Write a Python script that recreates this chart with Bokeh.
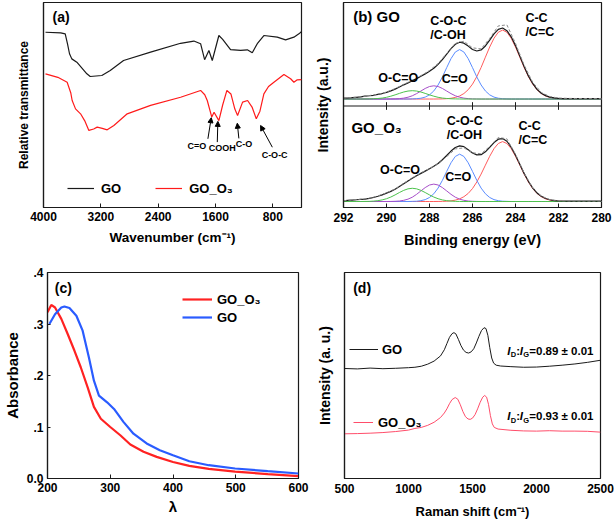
from bokeh.plotting import figure
from bokeh.layouts import column, row
from bokeh.models import (FixedTicker, Legend, LegendItem, Label, Arrow,
                          NormalHead, Span, Range1d)
from bokeh.embed import file_html
from bokeh.resources import INLINE

FONT = "Liberation Sans"
INK = "#1a1a1a"

# ---------------- (a) FTIR ----------------
ftir_go_wn = [3972, 3760, 3697, 3665, 3637, 3605, 3535, 3395, 3348, 3186, 3069, 2883, 2506, 2087, 1902, 1808,
              1752, 1692, 1645, 1553, 1500, 1390, 1250, 1156, 1087, 1017, 925, 738, 622, 506, 436, 398]
ftir_go_t = [85.5, 85.2, 84.7, 79.8, 75.0, 72.5, 70.9, 65.2, 63.9, 64.4, 66.8, 71.7, 75.8, 80.1, 81.2, 79.9,
             72.1, 76.6, 71.7, 83.9, 82.0, 77.0, 76.6, 76.9, 75.5, 79.9, 83.9, 83.1, 81.8, 83.1, 84.7, 85.9]
ftir_o3_wn = [3972, 3800, 3670, 3620, 3600, 3553, 3483, 3420, 3367, 3300, 3251, 3180, 3111, 3018, 2832, 2506,
              2087, 1808, 1750, 1715, 1652, 1620, 1553, 1500, 1441, 1385, 1330, 1292, 1222, 1152, 1090, 1031,
              980, 925, 860, 785, 645, 552, 506, 459, 398]
ftir_o3_t = [65.2, 63.5, 61.1, 56.0, 52.2, 48.1, 45.7, 42.0, 37.6, 38.3, 39.2, 38.6, 37.9, 40.0, 45.7, 49.8,
             53.8, 57.1, 55.0, 52.2, 44.1, 46.5, 42.4, 50.0, 57.1, 55.4, 48.0, 44.9, 51.4, 52.2, 49.0, 43.3,
             47.0, 55.4, 59.0, 61.1, 64.9, 62.8, 61.1, 62.3, 62.4]
ftir_ticks = [4000, 3200, 2400, 1600, 800]
ftir_bands = ["C=O", "COOH", "C-O", "C-O-C"]
ftir_band_text = [(1860, 30.2), (1505, 28.8), (1201, 31.2), (775, 25.4)]
ftir_arrow_from = [(1706, 33.5), (1575, 31.9), (1274, 33.7), (807, 29.4)]
ftir_arrow_to = [(1659, 43.8), (1567, 42.0), (1296, 41.1), (971, 40.0)]

# ---------------- (b) XPS C1s ----------------
xps_be = [292.0, 291.8, 291.6, 291.4, 291.2, 291.0, 290.8, 290.6, 290.4, 290.2,
          290.0, 289.8, 289.6, 289.4, 289.2, 289.0, 288.8, 288.6, 288.4, 288.2,
          288.0, 287.8, 287.6, 287.4, 287.2, 287.0, 286.8, 286.6, 286.4, 286.2,
          286.0, 285.8, 285.6, 285.4, 285.2, 285.0, 284.8, 284.6, 284.4, 284.2,
          284.0, 283.8, 283.6, 283.4, 283.2, 283.0, 282.8, 282.6, 282.4, 282.2,
          282.0, 281.8, 281.6, 281.4, 281.2, 281.0, 280.8, 280.6, 280.4, 280.2,
          280.0]
xps_be_raw = [292.0, 291.6, 291.2, 290.8, 290.4, 290.0, 289.6, 289.2, 288.8, 288.4,
              288.0, 287.6, 287.2, 286.8, 286.4, 286.0, 285.6, 285.2, 284.8, 284.4,
              284.0, 283.6, 283.2, 282.8, 282.4, 282.0, 281.6, 281.2, 280.8, 280.4,
              280.0]
xps_ticks = [292, 290, 288, 286, 284, 282, 280]

# GO (rows of 10 values, same grid as xps_be)
xps_go_cc = [0, 0, 0, 0, 0, 0, 0, 0, 0, 0,
             0, 0, 0, 0, 0, 0, 0, 0, 0, 0,
             0, 0, .001, .002, .005, .011, .023, .044, .079, .134,
             .214, .322, .453, .601, .747, .873, .959, .990, .959, .873,
             .747, .601, .453, .322, .214, .134, .079, .044, .023, .011,
             .005, .002, .001, 0, 0, 0, 0, 0, 0, 0,
             0]
xps_go_coc = [0, 0, 0, 0, 0, 0, 0, 0, 0, 0,
              0, 0, 0, 0, 0, 0, .002, .005, .012, .028,
              .060, .116, .202, .317, .451, .580, .675, .710, .675, .580,
              .451, .317, .202, .116, .060, .028, .012, .005, .002, 0,
              0, 0, 0, 0, 0, 0, 0, 0, 0, 0,
              0, 0, 0, 0, 0, 0, 0, 0, 0, 0,
              0]
xps_go_co = [0, 0, 0, 0, 0, 0, 0, 0, 0, 0,
             0, .001, .002, .006, .013, .026, .047, .078, .115, .152,
             .180, .190, .180, .152, .115, .078, .047, .026, .013, .006,
             .002, .001, 0, 0, 0, 0, 0, 0, 0, 0,
             0, 0, 0, 0, 0, 0, 0, 0, 0, 0,
             0, 0, 0, 0, 0, 0, 0, 0, 0, 0,
             0]
xps_go_oco = [0, 0, 0, 0, 0, .001, .002, .004, .008, .014,
              .025, .041, .060, .081, .101, .115, .120, .115, .101, .081,
              .060, .041, .025, .014, .008, .004, .002, .001, 0, 0,
              0, 0, 0, 0, 0, 0, 0, 0, 0, 0,
              0, 0, 0, 0, 0, 0, 0, 0, 0, 0,
              0, 0, 0, 0, 0, 0, 0, 0, 0, 0,
              0]
xps_go_fit = [.012, .015, .020, .025, .030, .041, .047, .054, .068, .079,
              .095, .117, .142, .172, .204, .231, .264, .293, .328, .361,
              .400, .442, .498, .565, .644, .723, .787, .816, .802, .760,
              .712, .690, .705, .762, .847, .936, 1.001, 1.020, .981, .893,
              .767, .616, .468, .332, .224, .139, .084, .049, .028, .016,
              .010, .007, .006, .005, .005, .005, .005, .005, .005, .005,
              .005]
xps_go_raw = [.014, .022, .031, .050, .070, .100, .150, .212, .270, .336,
              .410, .510, .655, .800, .830, .735, .720, .870, 1.050, 1.065,
              .800, .490, .240, .095, .035, .015, .010, .008, .007, .006,
              .006]

# GO_O3
xps_o3_cc = [0, 0, 0, 0, 0, 0, 0, 0, 0, 0,
             0, 0, 0, 0, 0, 0, 0, 0, 0, 0,
             0, 0, .001, .002, .004, .009, .020, .038, .069, .116,
             .186, .280, .394, .522, .649, .759, .833, .860, .833, .759,
             .649, .522, .394, .280, .186, .116, .069, .038, .020, .009,
             .004, .002, .001, 0, 0, 0, 0, 0, 0, 0,
             0]
xps_o3_coc = [0, 0, 0, 0, 0, 0, 0, 0, 0, 0,
              0, 0, 0, 0, 0, 0, .002, .004, .012, .027,
              .058, .111, .193, .304, .432, .556, .647, .680, .647, .556,
              .432, .304, .193, .111, .058, .027, .012, .004, .002, 0,
              0, 0, 0, 0, 0, 0, 0, 0, 0, 0,
              0, 0, 0, 0, 0, 0, 0, 0, 0, 0,
              0]
xps_o3_co = [0, 0, 0, 0, 0, 0, 0, 0, 0, 0,
             0, .001, .003, .007, .017, .034, .062, .103, .152, .200,
             .237, .250, .237, .200, .152, .103, .062, .034, .017, .007,
             .003, .001, 0, 0, 0, 0, 0, 0, 0, 0,
             0, 0, 0, 0, 0, 0, 0, 0, 0, 0,
             0, 0, 0, 0, 0, 0, 0, 0, 0, 0,
             0]
xps_o3_oco = [0, 0, 0, 0, 0, .001, .002, .006, .012, .023,
              .040, .064, .095, .129, .160, .182, .190, .182, .160, .129,
              .095, .064, .040, .023, .012, .006, .002, .001, 0, 0,
              0, 0, 0, 0, 0, 0, 0, 0, 0, 0,
              0, 0, 0, 0, 0, 0, 0, 0, 0, 0,
              0, 0, 0, 0, 0, 0, 0, 0, 0, 0,
              0]
xps_o3_fit = [.010, .015, .020, .025, .030, .035, .045, .058, .075, .095,
              .120, .145, .175, .215, .255, .296, .334, .369, .404, .436,
              .470, .505, .546, .599, .660, .724, .776, .798, .788, .744,
              .696, .670, .672, .713, .777, .846, .895, .904, .865, .779,
              .664, .534, .404, .290, .194, .123, .075, .043, .025, .014,
              .009, .007, .006, .005, .005, .005, .005, .005, .005, .005,
              .005]
xps_o3_raw = [.012, .022, .032, .048, .080, .125, .180, .262, .340, .410,
              .475, .540, .645, .755, .770, .700, .685, .790, .920, .900,
              .680, .410, .195, .078, .027, .012, .008, .007, .006, .006,
              .006]

XPS_GO_SHIFT = 1.471   # vertical stacking of the GO spectrum
XPS_DIVIDER = 1.371

# ---------------- (c) UV-vis ----------------
uv_o3_wl = [200, 206, 212, 222, 232, 243, 253, 264, 274, 285, 300, 316, 332, 353, 374, 400, 426, 457, 499, 551, 600]
uv_o3_abs = [.323, .337, .332, .310, .281, .248, .216, .177, .139, .116, .100, .084, .066, .052, .042, .032,
             .0245, .0187, .0135, .0084, .0045]
uv_go_wl = [203, 212, 222, 227, 235, 246, 256, 266, 274, 282, 295, 306, 321, 337, 358, 379, 400, 426, 457, 499,
            551, 600]
uv_go_abs = [.300, .319, .332, .334, .331, .316, .287, .235, .190, .161, .148, .135, .110, .087, .068, .055,
             .045, .0335, .0258, .0194, .0142, .0097]
uv_xticks = [200, 300, 400, 500, 600]
uv_yticks = [0, 0.1, 0.2, 0.3, 0.4]
uv_ylabels = {0: "0.0", 0.1: ".1", 0.2: ".2", 0.3: ".3", 0.4: ".4"}

# ---------------- (d) Raman ----------------
raman_go_shift = [500, 600, 700, 800, 900, 1000, 1050, 1100, 1150, 1200, 1250, 1280, 1300, 1320, 1340, 1355,
                  1370, 1390, 1410, 1430, 1450, 1470, 1490, 1510, 1530, 1550, 1570, 1590, 1605, 1620, 1635,
                  1650, 1665, 1685, 1720, 1800, 1900, 2000, 2100, 2200, 2300, 2400, 2500]
raman_go_int = [53.4, 53.2, 53.6, 53.3, 53.5, 53.8, 54.0, 54.5, 55.5, 57.0, 59.5, 62.5, 65.5, 68.5, 70.3, 70.8,
                70.2, 67.5, 64.5, 62.3, 61.2, 60.9, 61.5, 63.0, 65.8, 69.0, 71.8, 73.2, 72.8, 69.5, 63.5,
                58.5, 56.0, 55.0, 54.6, 54.3, 54.0, 54.1, 54.5, 55.0, 55.6, 56.4, 57.4]
raman_o3_shift = [500, 600, 700, 800, 900, 1000, 1050, 1100, 1150, 1200, 1250, 1280, 1300, 1320, 1340, 1365,
                  1385, 1405, 1425, 1445, 1465, 1482, 1500, 1520, 1540, 1560, 1580, 1595, 1610, 1625, 1640,
                  1655, 1670, 1700, 1800, 1900, 2000, 2100, 2200, 2300, 2400, 2500]
raman_o3_int = [21.7, 21.8, 22.0, 22.3, 22.8, 23.5, 24.3, 24.8, 25.8, 27.3, 29.6, 31.8, 33.8, 36.3, 38.3, 39.3,
                38.5, 35.8, 32.5, 30.0, 28.9, 28.7, 29.3, 31.0, 33.8, 37.0, 39.5, 40.3, 39.5, 36.0, 30.5,
                26.5, 24.8, 24.0, 23.4, 23.1, 23.0, 23.2, 23.0, 23.0, 22.9, 22.5]
raman_ticks = [500, 1000, 1500, 2000, 2500]
raman_ratio = [("0.89", "0.01"), ("0.93", "0.01")]


def style(p, xlabel, ylabel, xticks, xlab_standoff, title_standoff, ylabel_standoff,
          ysize="14px", xsize="14px"):
    p.outline_line_color = INK
    p.outline_line_width = 1.2
    p.grid.visible = False
    p.background_fill_color = "white"
    p.border_fill_color = "white"
    for ax in p.axis:
        ax.axis_line_color = INK
        ax.axis_line_width = 1.2
        ax.major_label_text_font = FONT
        ax.major_label_text_font_style = "bold"
        ax.major_label_text_font_size = "12px"
        ax.major_label_text_color = "black"
        ax.axis_label_text_font = FONT
        ax.axis_label_text_font_style = "bold"
        ax.axis_label_text_color = "black"
        ax.minor_tick_line_color = None
        ax.major_tick_out = 0
        ax.major_tick_in = 4
        ax.major_tick_line_color = INK
    xa = p.xaxis[0]
    xa.ticker = FixedTicker(ticks=xticks)
    xa.axis_label = xlabel
    xa.axis_label_text_font_size = xsize
    xa.major_label_standoff = xlab_standoff
    xa.axis_label_standoff = title_standoff
    ya = p.yaxis[0]
    ya.axis_label = ylabel
    ya.axis_label_text_font_size = ysize
    ya.axis_label_standoff = ylabel_standoff
    return xa, ya


def no_yticks(ya):
    ya.ticker = FixedTicker(ticks=[])
    ya.major_tick_in = 0
    ya.major_label_standoff = 0


def lab(p, x, y, text, size, align="left", style_="bold", xo=0, yo=0, color="black"):
    p.add_layout(Label(x=x, y=y, text=text, text_font=FONT, text_font_size=size,
                       text_font_style=style_, text_align=align, text_baseline="middle",
                       text_color=color, x_offset=xo, y_offset=yo))


def legend(p, items, loc, orientation="vertical", glyph_w=30, h=20, standoff=6, spacing=0):
    lg = Legend(items=items, location=loc, orientation=orientation,
                border_line_color=None, background_fill_alpha=0, padding=0, margin=0,
                spacing=spacing, glyph_width=glyph_w, glyph_height=h, label_height=h,
                label_standoff=standoff, label_text_font=FONT, label_text_font_style="bold",
                label_text_font_size="13px", label_text_color="black")
    p.add_layout(lg)


common = dict(output_backend="svg", toolbar_location=None)

# ---------------- panel (a) ----------------
pa = figure(width=305, height=260, x_range=Range1d(4000, 400), y_range=Range1d(0, 100),
            min_border_left=43, min_border_right=4, min_border_top=2, min_border_bottom=53, **common)
xa, ya = style(pa, "Wavenumber (cm\u207b\u00b9)", "Relative transmittance", ftir_ticks, 4, 6, 13,
               ysize="12px", xsize="13.5px")
no_yticks(ya)
ra1 = pa.line(ftir_go_wn, ftir_go_t, line_color=INK, line_width=1.2)
ra2 = pa.line(ftir_o3_wn, ftir_o3_t, line_color="#ff1a1a", line_width=1.2)
for name, (tx, ty), (x0, y0), (x1, y1) in zip(ftir_bands, ftir_band_text, ftir_arrow_from, ftir_arrow_to):
    lab(pa, tx, ty, name, "9px", align="center")
    pa.add_layout(Arrow(end=NormalHead(size=5, line_color="black", fill_color="black"),
                        x_start=x0, y_start=y0, x_end=x1, y_end=y1, line_color="black", line_width=1))
lab(pa, 3874, 92.7, "(a)", "14px")
legend(pa, [LegendItem(label="GO", renderers=[ra1]), LegendItem(label="GO_O\u2083", renderers=[ra2])],
       (24, 9), orientation="horizontal", glyph_w=27, standoff=7, spacing=34)

# ---------------- panel (b) ----------------
pb = figure(width=309, height=260, x_range=Range1d(292, 280), y_range=Range1d(-0.086, 2.857),
            min_border_left=38, min_border_right=13, min_border_top=2, min_border_bottom=52, **common)
xb, yb = style(pb, "Binding energy (eV)", "Intensity (a.u.)", xps_ticks, 5, 7, 13, xsize="14.5px")
no_yticks(yb)
comp_colors = ["#ff5c5c", "#5a8cff", "#a64dc8", "#4cc24c"]
for shift, comps, fit, raw in ((XPS_GO_SHIFT, (xps_go_cc, xps_go_coc, xps_go_co, xps_go_oco), xps_go_fit, xps_go_raw),
                               (0.0, (xps_o3_cc, xps_o3_coc, xps_o3_co, xps_o3_oco), xps_o3_fit, xps_o3_raw)):
    for vals, col in zip(comps, comp_colors):
        pb.line(xps_be[:len(vals)], [v + shift for v in vals], line_color=col, line_width=1)
    pb.line(xps_be[:len(fit)], [v + shift for v in fit], line_color=INK, line_width=1.2)
    pb.line(xps_be_raw[:len(raw)], [v + shift for v in raw], line_color="#8a8a8a", line_width=1, line_dash="3 2")
pb.add_layout(Span(location=XPS_DIVIDER, dimension="width", line_color=INK, line_width=1.2))
inner = xps_ticks[1:-1]
pb.segment(x0=inner, y0=[XPS_DIVIDER - 0.055] * len(inner), x1=inner, y1=[XPS_DIVIDER + 0.055] * len(inner),
           line_color=INK, line_width=1)
lab(pb, 291.55, 2.657, "(b) GO", "15px")
lab(pb, 287.96, 2.586, "C-O-C", "12.5px")
lab(pb, 287.96, 2.386, "/C-OH", "12.5px")
lab(pb, 283.54, 2.629, "C-C", "12.5px")
lab(pb, 283.54, 2.428, "/C=C", "12.5px")
lab(pb, 290.38, 1.771, "O-C=O", "12.5px")
lab(pb, 287.43, 1.757, "C=O", "12.5px")
lab(pb, 291.63, 1.067, "GO_O\u2083", "15px")
lab(pb, 287.20, 1.161, "C-O-C", "12.5px")
lab(pb, 287.20, 0.957, "/C-OH", "12.5px")
lab(pb, 283.86, 1.090, "C-C", "12.5px")
lab(pb, 283.86, 0.876, "/C=C", "12.5px")
lab(pb, 290.30, 0.447, "O-C=O", "12.5px")
lab(pb, 287.27, 0.352, "C=O", "12.5px")

# ---------------- panel (c) ----------------
pc = figure(width=310, height=263, x_range=Range1d(200, 600), y_range=Range1d(0, 0.4),
            min_border_left=43, min_border_right=12, min_border_top=12, min_border_bottom=45, **common)
xc, yc = style(pc, "\u03bb", "Absorbance", uv_xticks, 4, 3, 3, ysize="15px", xsize="15px")
yc.ticker = FixedTicker(ticks=uv_yticks)
yc.major_label_overrides = uv_ylabels
yc.major_tick_in = 3
yc.major_label_standoff = 4
rc1 = pc.line(uv_o3_wl, uv_o3_abs, line_color="#ff2222", line_width=2.2)
rc2 = pc.line(uv_go_wl, uv_go_abs, line_color="#2a5cff", line_width=2.2)
lab(pc, 211.5, 0.370, "(c)", "14px")
legend(pc, [LegendItem(label="GO_O\u2083", renderers=[rc1]), LegendItem(label="GO", renderers=[rc2])],
       (135, 152), glyph_w=30, h=18, standoff=5)

# ---------------- panel (d) ----------------
pd_ = figure(width=304, height=263, x_range=Range1d(500, 2500), y_range=Range1d(0, 100),
             min_border_left=34, min_border_right=14, min_border_top=12, min_border_bottom=45, **common)
xd, yd = style(pd_, "Raman shift (cm\u207b\u00b9)", "Intensity (a. u.)", raman_ticks, 5, 8, 12,
               xsize="13px")
xd.major_tick_in = 0
no_yticks(yd)
rd1 = pd_.line(raman_go_shift, raman_go_int, line_color=INK, line_width=1)
rd2 = pd_.line(raman_o3_shift, raman_o3_int, line_color="#ff4d6a", line_width=1)
lab(pd_, 568, 92.7, "(d)", "14px")
legend(pd_, [LegendItem(label="GO", renderers=[rd1])], (5, 119), glyph_w=29, standoff=4)
legend(pd_, [LegendItem(label="GO_O\u2083", renderers=[rd2])], (9, 46), glyph_w=20, standoff=5)
for (ratio, err), yy in zip(raman_ratio, (61.9, 30.3)):
    x0 = 1772
    lab(pd_, x0, yy, "I", "11.5px", style_="bold italic")
    lab(pd_, x0, yy, "D", "7.5px", xo=3.5, yo=-4)
    lab(pd_, x0, yy, ":", "11.5px", xo=9)
    lab(pd_, x0, yy, "I", "11.5px", style_="bold italic", xo=12.5)
    lab(pd_, x0, yy, "G", "7.5px", xo=16, yo=-4)
    lab(pd_, x0, yy, "=" + ratio + " \u00b1  " + err, "11.5px", xo=22)

layout = column(row(pa, pb), row(pc, pd_))
open("out.html", "w").write(file_html(layout, INLINE))
